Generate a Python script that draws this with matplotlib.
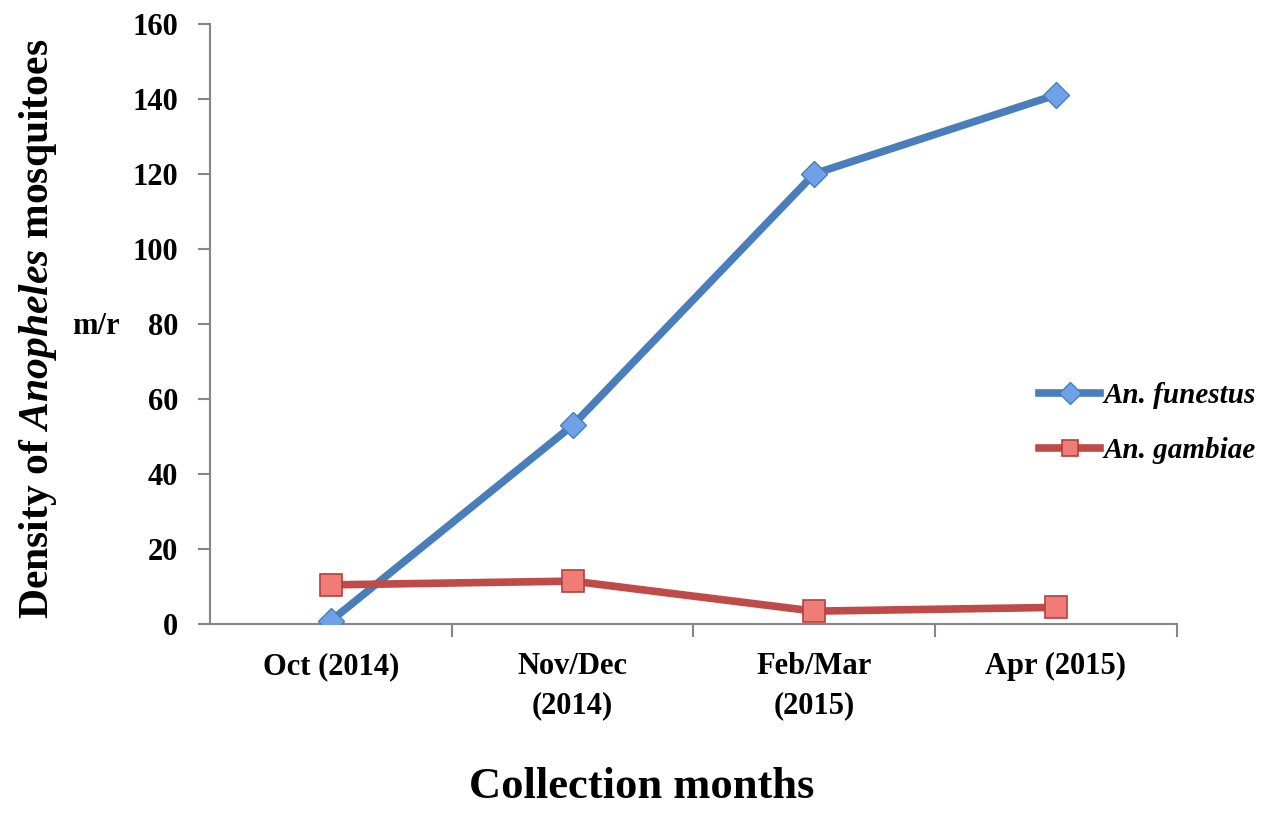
import matplotlib.pyplot as plt
from matplotlib.ticker import FixedLocator

categories = ["Oct (2014)", "Nov/Dec\n(2014)", "Feb/Mar\n(2015)", "Apr (2015)"]
funestus = [1, 53, 120, 141]
gambiae = [10.5, 11.5, 3.5, 4.5]
y_ticks = [0, 20, 40, 60, 80, 100, 120, 140, 160]

SERIF = "Liberation Serif"
AXIS_GREY = "#868686"

plt.rcParams["mathtext.fontset"] = "custom"
plt.rcParams["mathtext.it"] = "Liberation Serif:italic:bold"
plt.rcParams["mathtext.rm"] = "Liberation Serif:bold"
plt.rcParams["mathtext.bf"] = "Liberation Serif:bold"


def main() -> None:
    fig = plt.figure(figsize=(12.83, 8.15), dpi=100)
    ax = fig.add_axes([0.164, 0.234, 0.753, 0.737])

    x = range(len(categories))
    ax.plot(x, funestus, color="#4A7EBB", linewidth=5.5, marker="D", markersize=13,
            markerfacecolor="#6FA1E8", markeredgecolor="#4A7EBB", markeredgewidth=1,
            label="An. funestus", zorder=3)
    ax.plot(x, gambiae, color="#BE4B48", linewidth=5.5, marker="s", markersize=16,
            markerfacecolor="#F07C78", markeredgecolor="#B5403D", markeredgewidth=1.2,
            label="An. gambiae", zorder=4)

    ax.set_xlim(-0.5, 3.5)
    ax.set_ylim(0, 160)
    ax.set_yticks(y_ticks)
    ax.set_yticklabels([str(v) for v in y_ticks], fontfamily=SERIF,
                       fontweight="bold", fontsize=22)
    ax.set_xticks(list(x))
    ax.set_xticklabels(categories, fontfamily=SERIF, fontweight="bold",
                       fontsize=22, linespacing=1.45)
    ax.xaxis.set_minor_locator(FixedLocator([0.5, 1.5, 2.5, 3.5]))

    for side in ("top", "right"):
        ax.spines[side].set_visible(False)
    for side in ("left", "bottom"):
        ax.spines[side].set_color(AXIS_GREY)
        ax.spines[side].set_linewidth(1.5)

    ax.tick_params(axis="y", direction="out", length=9, width=1.5, color=AXIS_GREY, pad=14)
    ax.tick_params(axis="x", which="major", length=0, pad=20)
    ax.tick_params(axis="x", which="minor", direction="out", length=9, width=1.5,
                   color=AXIS_GREY)

    fig.text(0.03, 0.597, "Density of $\\mathit{Anopheles}$ mosquitoes", rotation=90,
             ha="center", va="center", fontfamily=SERIF, fontweight="bold", fontsize=30)
    fig.text(0.075, 0.6, "m/r", ha="center", va="center", fontfamily=SERIF,
             fontweight="bold", fontsize=22)
    fig.text(0.5, 0.034, "Collection months", ha="center", va="center",
             fontfamily=SERIF, fontweight="bold", fontsize=32)

    leg = ax.legend(loc="center left", bbox_to_anchor=(0.81, 0.481),
                    bbox_transform=fig.transFigure, frameon=False, handlelength=2.1,
                    handletextpad=0.1, labelspacing=0.95, borderpad=0, borderaxespad=0,
                    prop={"family": SERIF, "weight": "bold", "style": "italic", "size": 21})
    for handle in leg.legend_handles:
        handle.set_markersize(11)

    fig.savefig("out.png", dpi=100)
    plt.close(fig)


if __name__ == "__main__":
    main()
